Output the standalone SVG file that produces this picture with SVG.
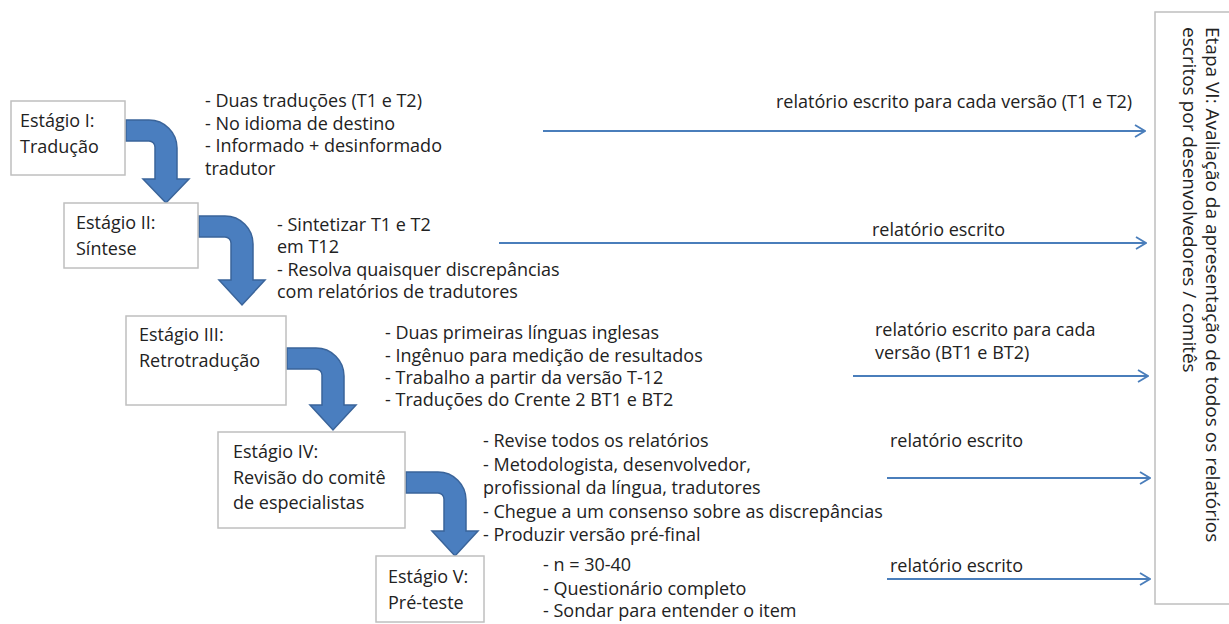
<svg xmlns="http://www.w3.org/2000/svg" width="1229" height="624" viewBox="0 0 1229 624">
<defs>
<marker id="chev" viewBox="0 0 12 14" refX="11" refY="7" markerWidth="12" markerHeight="14" markerUnits="userSpaceOnUse" orient="auto">
<path d="M1,1 L11,7 L1,13" fill="none" stroke="#4a7ebb" stroke-width="1.8"/>
</marker>
</defs>
<style>
text{font-family:"Open Sans","Noto Sans","DejaVu Sans",sans-serif;font-size:18px;fill:#222}
.vt{font-size:19px}
.box{fill:#fff;stroke:#bfbfbf;stroke-width:1.5}
.bent{fill:#4a7ebf;stroke:#3a649a;stroke-width:1.5}
.rep{stroke:#4a7ebb;stroke-width:2;fill:none;marker-end:url(#chev)}
</style>
<rect width="1229" height="624" fill="#fff"/>
<g id="connectors">
<path class="bent" d="M126,120 H149 A28 28 0 0 1 177,148 V179 H189 L166,203 L143,179 H155 V147 A6 6 0 0 0 149,141 H126 Z"/>
<path class="bent" d="M199,216 H225 A28 28 0 0 1 253,244 V280 H265 L242,305 L219,280 H231 V243 A6 6 0 0 0 225,237 H199 Z"/>
<path class="bent" d="M287,348 H316 A28 28 0 0 1 344,376 V405 H356 L333,430 L310,405 H322 V375 A6 6 0 0 0 316,369 H287 Z"/>
<path class="bent" d="M406,472 H438 A28 28 0 0 1 466,500 V531 H478 L455,556 L432,531 H444 V499 A6 6 0 0 0 438,493 H406 Z"/>
<line class="rep" x1="543" y1="131" x2="1145" y2="131"/>
<line class="rep" x1="499" y1="243" x2="1146" y2="243"/>
<line class="rep" x1="853" y1="376" x2="1148" y2="376"/>
<line class="rep" x1="887" y1="478" x2="1150" y2="478"/>
<line class="rep" x1="887" y1="579" x2="1150" y2="579"/>
<text x="776" y="108">relatório escrito para cada versão (T1 e T2)</text>
<text x="872" y="236">relatório escrito</text>
<text x="875" y="336">relatório escrito para cada</text>
<text x="875" y="359">versão (BT1 e BT2)</text>
<text x="890" y="447">relatório escrito</text>
<text x="890" y="572">relatório escrito</text>
</g>
<g id="stage1">
<rect class="box" x="11" y="101" width="114" height="74"/>
<text x="20" y="127">Estágio I:</text>
<text x="20" y="153">Tradução</text>
<text x="205" y="107">- Duas traduções (T1 e T2)</text>
<text x="205" y="130">- No idioma de destino</text>
<text x="205" y="152">- Informado + desinformado</text>
<text x="205" y="175">tradutor</text>
</g>
<g id="stage2">
<rect class="box" x="64" y="203" width="134" height="65"/>
<text x="76" y="229">Estágio II:</text>
<text x="76" y="255">Síntese</text>
<text x="277" y="231">- Sintetizar T1 e T2</text>
<text x="277" y="253">em T12</text>
<text x="277" y="276">- Resolva quaisquer discrepâncias</text>
<text x="277" y="298">com relatórios de tradutores</text>
</g>
<g id="stage3">
<rect class="box" x="126" y="316" width="160" height="89"/>
<text x="139" y="341">Estágio III:</text>
<text x="139" y="367">Retrotradução</text>
<text x="385" y="339">- Duas primeiras línguas inglesas</text>
<text x="385" y="362">- Ingênuo para medição de resultados</text>
<text x="385" y="384">- Trabalho a partir da versão T-12</text>
<text x="385" y="406">- Traduções do Crente 2 BT1 e BT2</text>
</g>
<g id="stage4">
<rect class="box" x="218" y="432" width="187" height="96"/>
<text x="233" y="458">Estágio IV:</text>
<text x="233" y="484">Revisão do comitê</text>
<text x="233" y="509">de especialistas</text>
<text x="483" y="447">- Revise todos os relatórios</text>
<text x="483" y="471">- Metodologista, desenvolvedor,</text>
<text x="483" y="494">profissional da língua, tradutores</text>
<text x="483" y="518">- Chegue a um consenso sobre as discrepâncias</text>
<text x="483" y="541">- Produzir versão pré-final</text>
</g>
<g id="stage5">
<rect class="box" x="376" y="556" width="108" height="66"/>
<text x="388" y="583">Estágio V:</text>
<text x="388" y="609">Pré-teste</text>
<text x="543" y="571">- n = 30-40</text>
<text x="543" y="595">- Questionário completo</text>
<text x="543" y="617">- Sondar para entender o item</text>
</g>
<g id="stage6">
<rect class="box" x="1155" y="12" width="90" height="592"/>
<text class="vt" transform="translate(1206,27) rotate(90)">Etapa VI: Avaliação da apresentação de todos os relatórios</text>
<text class="vt" transform="translate(1183,27) rotate(90)">escritos por desenvolvedores / comitês</text>
</g>
</svg>
